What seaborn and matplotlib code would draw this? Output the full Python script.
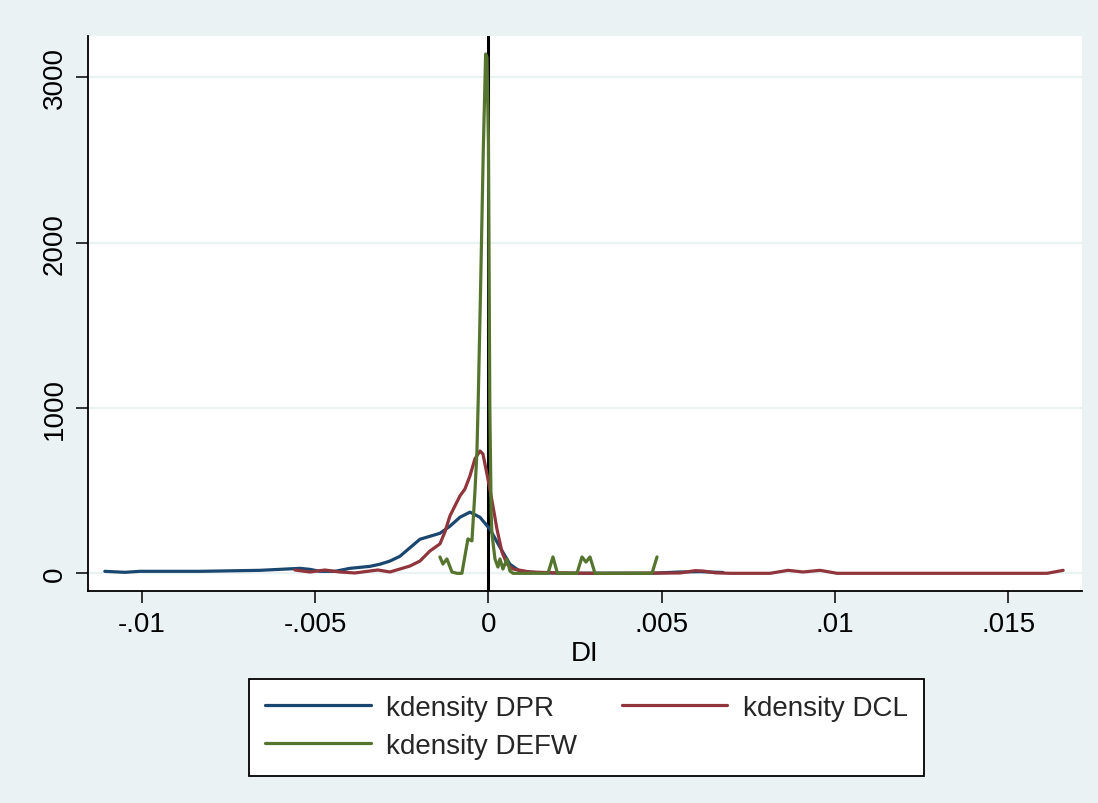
import matplotlib
matplotlib.use("Agg")
import matplotlib.pyplot as plt
import seaborn as sns
import numpy as np

# ---- data ----
dpr_x = [-0.011065, -0.010488, -0.010055, -0.008324, -0.006593, -0.006016, -0.005439,
         -0.005150, -0.004862, -0.004429, -0.003996, -0.003419, -0.003130, -0.002842,
         -0.002553, -0.001976, -0.001688, -0.001399, -0.001111, -0.000822, -0.000534,
         -0.000245, 0.000043, 0.000332, 0.000620, 0.000909, 0.001486, 0.002063,
         0.003217, 0.004660, 0.005525, 0.006102, 0.006766]
dpr_y = [12, 6, 12, 12, 18, 24, 30, 24, 12, 12, 30, 42, 55, 74, 103, 206, 224, 242,
         285, 339, 370, 339, 267, 158, 55, 12, 3, 1, 0, 0, 8, 10, 5]

dcl_x = [-0.005583, -0.005150, -0.004717, -0.004284, -0.003852, -0.003419, -0.003188,
         -0.002842, -0.002553, -0.002265, -0.001976, -0.001688, -0.001399, -0.001255,
         -0.001111, -0.000822, -0.000678, -0.000534, -0.000390, -0.000245, -0.000159,
         -0.000014, 0.000130, 0.000245, 0.000390, 0.000534, 0.000707, 0.001197,
         0.002063, 0.003217, 0.005525, 0.005958, 0.006189, 0.006535, 0.006968,
         0.008122, 0.008641, 0.009074, 0.009564, 0.010055, 0.016114, 0.016576]
dcl_y = [20, 8, 20, 8, 2, 14, 20, 8, 26, 44, 74, 135, 178, 250, 347, 468, 510, 589,
         692, 740, 722, 570, 407, 268, 129, 56, 26, 8, 2, 0, 2, 16, 14, 3, 0, 0, 18,
         8, 18, 0, 0, 18]

defw_x = [-0.001399, -0.001313, -0.001197, -0.001053, -0.000909, -0.000765, -0.000678,
          -0.000592, -0.000476, -0.000390, -0.000332, -0.000294, -0.000225, -0.000150,
          -0.000081, -0.000043, 0.000000, 0.000040, 0.000080, 0.000101, 0.000188,
          0.000274, 0.000332, 0.000418, 0.000534, 0.000620, 0.000707, 0.001717,
          0.001861, 0.001991, 0.002553, 0.002698, 0.002813, 0.002929, 0.003073,
          0.004717, 0.004862]
defw_y = [99, 56, 87, 8, 0, 0, 105, 208, 196, 492, 734, 1055, 1740, 2547, 3141, 3120,
          2600, 1000, 350, 240, 87, 38, 87, 26, 87, 14, 0, 0, 99, 0, 0, 99, 68, 99, 0,
          0, 99]

series_labels = ["kdensity DPR", "kdensity DCL", "kdensity DEFW"]
x_ticks = [-0.01, -0.005, 0, 0.005, 0.01, 0.015]
x_ticklabels = ["-.01", "-.005", "0", ".005", ".01", ".015"]
y_ticks = [0, 1000, 2000, 3000]
y_ticklabels = ["0", "1000", "2000", "3000"]

# ---- style ----
sns.set_theme(style="white")
plt.rcParams["font.family"] = ["Liberation Sans", "DejaVu Sans"]

BG = "#EAF2F3"
colors = ["#1A476F", "#90353B", "#55752F"]

fig = plt.figure(figsize=(10.98, 8.04), dpi=100, facecolor=BG)
ax = fig.add_axes([88 / 1098, 1 - 592 / 804, (1082 - 88) / 1098, (592 - 37) / 804])
ax.set_facecolor("white")

for yv in y_ticks:
    ax.axhline(yv, color=BG, lw=1.6, zorder=0.5)

ax.axvline(0, color="black", lw=2.2, zorder=1.5)

for xs, ys, c, lab in [(dpr_x, dpr_y, colors[0], series_labels[0]),
                       (dcl_x, dcl_y, colors[1], series_labels[1]),
                       (defw_x, defw_y, colors[2], series_labels[2])]:
    sns.lineplot(x=xs, y=ys, ax=ax, color=c, lw=2.3, sort=False, estimator=None,
                 label=lab, zorder=2)

ax.set_xlim(-0.01155, 0.01712)
ax.set_ylim(-107, 3250)

for s in ["top", "right"]:
    ax.spines[s].set_visible(False)
for s in ["left", "bottom"]:
    ax.spines[s].set_color("black")
    ax.spines[s].set_linewidth(1.3)

ax.set_xticks(x_ticks)
ax.set_xticklabels(x_ticklabels)
ax.set_yticks(y_ticks)
ax.set_yticklabels(y_ticklabels, rotation=90, va="center")
ax.tick_params(axis="both", which="both", direction="out", length=8.5, width=1.1,
               color="black", labelsize=20, labelcolor="black", pad=6,
               bottom=True, left=True)
ax.set_xlabel("DI", fontsize=20, color="black", labelpad=2)
ax.set_ylabel("")

handles, labels = ax.get_legend_handles_labels()
ax.get_legend().remove()
order = [0, 2, 1]
leg = fig.legend([handles[i] for i in order], [labels[i] for i in order],
                 ncol=2, loc="center", bbox_to_anchor=(0.534, 0.0945),
                 fontsize=20, frameon=True, fancybox=False, shadow=False,
                 framealpha=1, edgecolor="black", handlelength=3.8,
                 handletextpad=0.55, columnspacing=1.6, labelspacing=0.42,
                 borderpad=0.6)
leg.get_frame().set_linewidth(1.3)
for h in leg.legend_handles:
    h.set_linewidth(2.3)

fig.savefig("out.png", dpi=100, facecolor=BG)
